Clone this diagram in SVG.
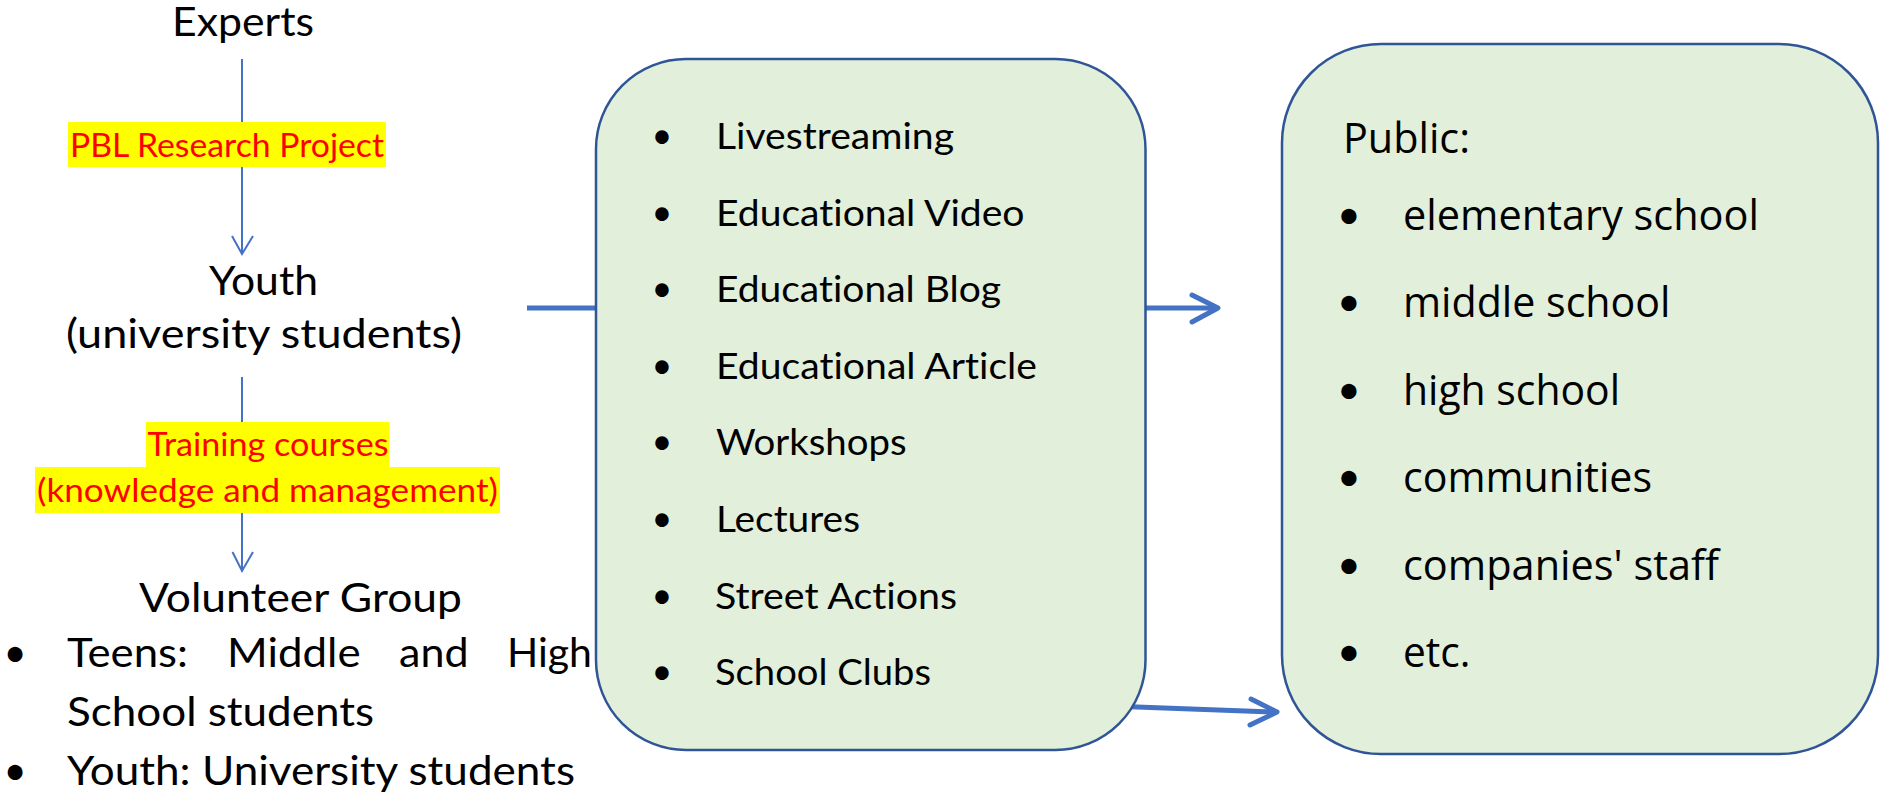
<svg xmlns="http://www.w3.org/2000/svg" width="1881" height="796" viewBox="0 0 1881 796">
<style>
text{font-variant-ligatures:none;font-feature-settings:"liga" 0,"clig" 0}
.c{font-family:Lato,"Open Sans",sans-serif;fill:#000}
.big{font-size:40px}
.mid{font-size:36px}
.lbl{font-size:32px;fill:#FF0000}
.pub{font-family:"Open Sans",sans-serif;font-size:42px;fill:#000}
.pb{font-family:Lato,sans-serif;font-size:41px;fill:#000}
.box{fill:#E2EFDA;stroke:#2F5597;stroke-width:2.5}
.thin{stroke:#4472C4;stroke-width:2;fill:none}
.thick{stroke:#4472C4;stroke-width:5;fill:none;stroke-linecap:round;stroke-linejoin:round}
.hl{fill:#FFFF00}
</style>
<rect width="1881" height="796" fill="#fff"/>
<g id="connectors">
<line class="thin" x1="242" y1="59" x2="242" y2="254"/>
<polyline class="thin" points="232,236 242,254 253,236"/>
<line class="thin" x1="242" y1="377" x2="242" y2="571"/>
<polyline class="thin" points="232.5,552 242,571 253,552"/>
<line class="thick" x1="527" y1="308" x2="1217" y2="308" style="stroke-linecap:butt"/>
<polyline class="thick" points="1192,295 1218,308 1192,322"/>
<line class="thick" x1="1110" y1="706" x2="1275" y2="712" style="stroke-linecap:butt"/>
<polyline class="thick" points="1251,699 1277,712 1250,725"/>
</g>
<g id="experts">
<text class="c big" x="172" y="36" textLength="142" lengthAdjust="spacingAndGlyphs">Experts</text>
</g>
<g id="label-pbl">
<rect class="hl" x="68" y="122" width="318" height="45"/>
<text class="c lbl" x="70" y="157" textLength="314" lengthAdjust="spacingAndGlyphs">PBL Research Project</text>
</g>
<g id="youth">
<text class="c big" x="209" y="295" textLength="109" lengthAdjust="spacingAndGlyphs">Youth</text>
<text class="c big" x="66" y="348" textLength="396" lengthAdjust="spacingAndGlyphs">(university students)</text>
</g>
<g id="label-training">
<rect class="hl" x="146" y="422" width="243.5" height="46"/>
<rect class="hl" x="35" y="467" width="465" height="46"/>
<text class="c lbl" x="147.5" y="456" textLength="241" lengthAdjust="spacingAndGlyphs">Training courses</text>
<text class="c lbl" x="37" y="502" textLength="461" lengthAdjust="spacingAndGlyphs">(knowledge and management)</text>
</g>
<g id="volunteer">
<text class="c big" x="139" y="612" textLength="323" lengthAdjust="spacingAndGlyphs">Volunteer Group</text>
<text class="c big" x="15" y="667" text-anchor="middle">•</text>
<text class="c big" x="67" y="667" textLength="121" lengthAdjust="spacingAndGlyphs">Teens:</text>
<text class="c big" x="227" y="667" textLength="133.6" lengthAdjust="spacingAndGlyphs">Middle</text>
<text class="c big" x="399" y="667" textLength="69.5" lengthAdjust="spacingAndGlyphs">and</text>
<text class="c big" x="507" y="667" textLength="85" lengthAdjust="spacingAndGlyphs">High</text>
<text class="c big" x="67" y="726" textLength="307" lengthAdjust="spacingAndGlyphs">School students</text>
<text class="c big" x="15" y="785" text-anchor="middle">•</text>
<text class="c big" x="67" y="785" textLength="508" lengthAdjust="spacingAndGlyphs">Youth: University students</text>
</g>
<g id="activities">
<rect class="box" x="596" y="59" width="549.5" height="691" rx="90" ry="90"/>
<g class="c mid" text-anchor="middle">
<text x="662" y="148">•</text>
<text x="662" y="224.6">•</text>
<text x="662" y="301.2">•</text>
<text x="662" y="377.8">•</text>
<text x="662" y="454.4">•</text>
<text x="662" y="531">•</text>
<text x="662" y="607.6">•</text>
<text x="662" y="684.2">•</text>
</g>
<g class="c mid">
<text x="716" y="149" textLength="238" lengthAdjust="spacingAndGlyphs">Livestreaming</text>
<text x="716" y="225.6" textLength="308.5" lengthAdjust="spacingAndGlyphs">Educational Video</text>
<text x="716" y="302.2" textLength="285" lengthAdjust="spacingAndGlyphs">Educational Blog</text>
<text x="716" y="378.8" textLength="321" lengthAdjust="spacingAndGlyphs">Educational Article</text>
<text x="716" y="455.4" textLength="190.6" lengthAdjust="spacingAndGlyphs">Workshops</text>
<text x="716" y="532" textLength="144" lengthAdjust="spacingAndGlyphs">Lectures</text>
<text x="715" y="608.6" textLength="242" lengthAdjust="spacingAndGlyphs">Street Actions</text>
<text x="715" y="685.2" textLength="216" lengthAdjust="spacingAndGlyphs">School Clubs</text>
</g>
</g>
<g id="public">
<rect class="box" x="1282" y="44" width="596" height="710" rx="99" ry="99"/>
<text class="pub" x="1343" y="152.5" textLength="127" lengthAdjust="spacingAndGlyphs">Public:</text>
<g class="pb" text-anchor="middle">
<text x="1349" y="229">•</text>
<text x="1349" y="316.4">•</text>
<text x="1349" y="403.8">•</text>
<text x="1349" y="491.2">•</text>
<text x="1349" y="578.6">•</text>
<text x="1349" y="666">•</text>
</g>
<g class="pub">
<text x="1403" y="230" textLength="356" lengthAdjust="spacingAndGlyphs">elementary school</text>
<text x="1403" y="317.4" textLength="267.5" lengthAdjust="spacingAndGlyphs">middle school</text>
<text x="1403" y="404.8" textLength="217" lengthAdjust="spacingAndGlyphs">high school</text>
<text x="1403" y="492.2" textLength="249" lengthAdjust="spacingAndGlyphs">communities</text>
<text x="1403" y="579.6" textLength="316" lengthAdjust="spacingAndGlyphs">companies' staff</text>
<text x="1403" y="667" textLength="67.5" lengthAdjust="spacingAndGlyphs">etc.</text>
</g>
</g>
</svg>
